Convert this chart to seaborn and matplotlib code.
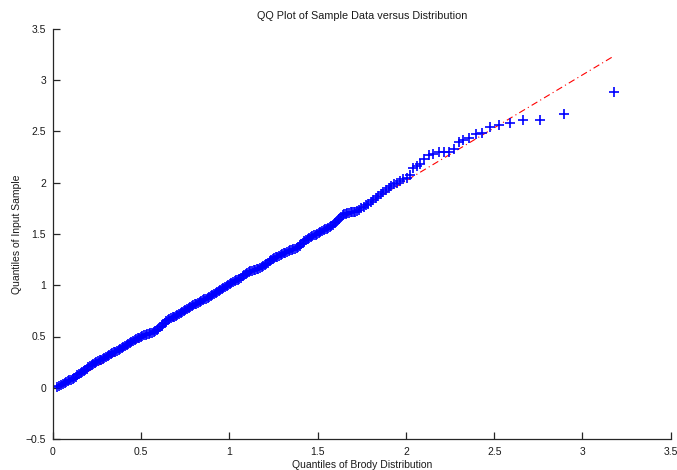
import matplotlib
matplotlib.use("Agg")
import matplotlib.pyplot as plt
import seaborn as sns
import pandas as pd

# Theoretical quantiles of the Brody distribution (x) and sample quantiles (y)
brody_quantiles = [
    0.024, 0.036, 0.047, 0.057, 0.066, 0.075, 0.084, 0.093, 0.102, 0.111,
    0.120, 0.129, 0.138, 0.147, 0.156, 0.165, 0.174, 0.183, 0.192, 0.201,
    0.210, 0.219, 0.228, 0.237, 0.246, 0.255, 0.264, 0.273, 0.282, 0.291,
    0.300, 0.309, 0.318, 0.327, 0.336, 0.345, 0.354, 0.363, 0.372, 0.381,
    0.390, 0.399, 0.408, 0.417, 0.426, 0.435, 0.444, 0.453, 0.462, 0.471,
    0.480, 0.489, 0.498, 0.507, 0.516, 0.525, 0.534, 0.543, 0.552, 0.561,
    0.570, 0.579, 0.588, 0.597, 0.606, 0.615, 0.624, 0.633, 0.642, 0.651,
    0.660, 0.669, 0.678, 0.687, 0.696, 0.705, 0.714, 0.723, 0.732, 0.741,
    0.750, 0.759, 0.768, 0.777, 0.786, 0.795, 0.804, 0.813, 0.822, 0.831,
    0.840, 0.849, 0.858, 0.867, 0.876, 0.885, 0.894, 0.903, 0.912, 0.921,
    0.930, 0.939, 0.948, 0.957, 0.966, 0.975, 0.984, 0.993, 1.002, 1.011,
    1.020, 1.029, 1.038, 1.047, 1.056, 1.065, 1.074, 1.083, 1.092, 1.101,
    1.110, 1.119, 1.128, 1.137, 1.146, 1.155, 1.164, 1.173, 1.182, 1.191,
    1.200, 1.209, 1.218, 1.227, 1.236, 1.245, 1.254, 1.263, 1.272, 1.281,
    1.290, 1.299, 1.308, 1.317, 1.326, 1.335, 1.344, 1.353, 1.362, 1.371,
    1.380, 1.389, 1.398, 1.407, 1.416, 1.425, 1.434, 1.443, 1.452, 1.461,
    1.470, 1.479, 1.488, 1.497, 1.506, 1.515, 1.524, 1.533, 1.542, 1.551,
    1.560, 1.569, 1.578, 1.587, 1.596, 1.605, 1.614, 1.623, 1.632, 1.641,
    1.650, 1.659, 1.668, 1.677, 1.686, 1.695, 1.704, 1.713, 1.724, 1.736,
    1.748, 1.760, 1.772, 1.786, 1.800, 1.814, 1.828, 1.842, 1.857, 1.872,
    1.887, 1.902, 1.918, 1.934, 1.950, 1.966, 1.985, 2.004, 2.023, 2.041,
    2.060, 2.079, 2.104, 2.130, 2.155, 2.187, 2.215, 2.244, 2.272, 2.298,
    2.325, 2.359, 2.395, 2.429, 2.476, 2.527, 2.589, 2.661, 2.757, 2.893,
    3.178,
]
sample_quantiles = [
    0.004, 0.016, 0.028, 0.038, 0.047, 0.055, 0.063, 0.072, 0.080, 0.088,
    0.096, 0.108, 0.120, 0.131, 0.143, 0.154, 0.166, 0.176, 0.187, 0.198,
    0.209, 0.220, 0.231, 0.240, 0.249, 0.258, 0.266, 0.275, 0.283, 0.292,
    0.302, 0.312, 0.323, 0.330, 0.337, 0.344, 0.352, 0.360, 0.369, 0.378,
    0.386, 0.395, 0.405, 0.417, 0.428, 0.439, 0.448, 0.457, 0.466, 0.475,
    0.482, 0.489, 0.497, 0.504, 0.510, 0.515, 0.520, 0.526, 0.531, 0.536,
    0.543, 0.555, 0.566, 0.578, 0.590, 0.604, 0.618, 0.632, 0.647, 0.657,
    0.667, 0.676, 0.686, 0.695, 0.703, 0.712, 0.720, 0.729, 0.738, 0.748,
    0.757, 0.767, 0.776, 0.786, 0.795, 0.805, 0.813, 0.821, 0.829, 0.837,
    0.845, 0.853, 0.861, 0.869, 0.878, 0.887, 0.896, 0.906, 0.915, 0.924,
    0.934, 0.943, 0.952, 0.962, 0.972, 0.981, 0.991, 1.001, 1.011, 1.020,
    1.029, 1.038, 1.047, 1.056, 1.065, 1.075, 1.086, 1.096, 1.107, 1.117,
    1.128, 1.137, 1.141, 1.146, 1.151, 1.155, 1.160, 1.165, 1.176, 1.187,
    1.199, 1.210, 1.221, 1.232, 1.242, 1.252, 1.261, 1.271, 1.280, 1.290,
    1.298, 1.305, 1.312, 1.319, 1.326, 1.334, 1.341, 1.346, 1.351, 1.356,
    1.361, 1.374, 1.387, 1.401, 1.414, 1.427, 1.440, 1.452, 1.464, 1.474,
    1.481, 1.488, 1.495, 1.502, 1.509, 1.517, 1.526, 1.535, 1.544, 1.553,
    1.562, 1.571, 1.580, 1.589, 1.604, 1.620, 1.636, 1.651, 1.667, 1.683,
    1.693, 1.697, 1.702, 1.707, 1.711, 1.713, 1.716, 1.718, 1.725, 1.738,
    1.752, 1.766, 1.779, 1.797, 1.815, 1.834, 1.852, 1.870, 1.890, 1.909,
    1.928, 1.946, 1.965, 1.983, 2.000, 2.018, 2.034, 2.046, 2.079, 2.144,
    2.163, 2.183, 2.235, 2.268, 2.277, 2.297, 2.300, 2.300, 2.329, 2.401,
    2.414, 2.440, 2.476, 2.482, 2.544, 2.563, 2.580, 2.612, 2.612, 2.667,
    2.882,
]

# Reference line through the quartiles, spanning the data range
ref_x = [0.045, 3.178]
ref_y = [0.000, 3.236]

x_ticks = [0, 0.5, 1, 1.5, 2, 2.5, 3, 3.5]
y_ticks = [-0.5, 0, 0.5, 1, 1.5, 2, 2.5, 3, 3.5]

sns.set_style("ticks")
plt.rcParams["font.family"] = ["Liberation Sans", "DejaVu Sans"]
plt.rcParams["axes.unicode_minus"] = True

fig = plt.figure(figsize=(6.77, 4.70), dpi=100)
ax = fig.add_axes([53 / 677, 31 / 470, (670.7 - 53) / 677, (439 - 29) / 470])

points = pd.DataFrame({"x": brody_quantiles, "y": sample_quantiles})
ref = pd.DataFrame({"x": ref_x, "y": ref_y})

sns.lineplot(data=ref, x="x", y="y", ax=ax, color="#ff0000",
             linestyle=(0, (6, 3, 1, 3)), linewidth=0.8, zorder=1)
sns.scatterplot(data=points, x="x", y="y", ax=ax, marker="+",
                color="#0000ff", s=42, linewidth=1.2, zorder=2)

ax.set_xlim(0, 3.5)
ax.set_ylim(-0.5, 3.5)
ax.set_xticks(x_ticks)
ax.set_yticks(y_ticks)
ax.set_xticklabels([f"{t:g}" for t in x_ticks])
ax.set_yticklabels([f"{t:g}".replace("-", "\u2212") for t in y_ticks])

sns.despine(ax=ax)
for side in ("left", "bottom"):
    ax.spines[side].set_color("#262626")
    ax.spines[side].set_linewidth(0.9)
ax.tick_params(direction="in", length=5, width=0.9, color="#262626",
               labelsize=7.5, labelcolor="#1a1a1a")
ax.tick_params(axis="x", pad=5.5)
ax.tick_params(axis="y", pad=5)

ax.set_title("QQ Plot of Sample Data versus Distribution", fontsize=7.8,
             color="#1a1a1a", pad=7.5)
ax.set_xlabel("Quantiles of Brody Distribution", fontsize=7.5,
              color="#1a1a1a", labelpad=2.5)
ax.set_ylabel("Quantiles of Input Sample", fontsize=7.5,
              color="#1a1a1a", labelpad=3)

fig.savefig("out.png", dpi=100)
